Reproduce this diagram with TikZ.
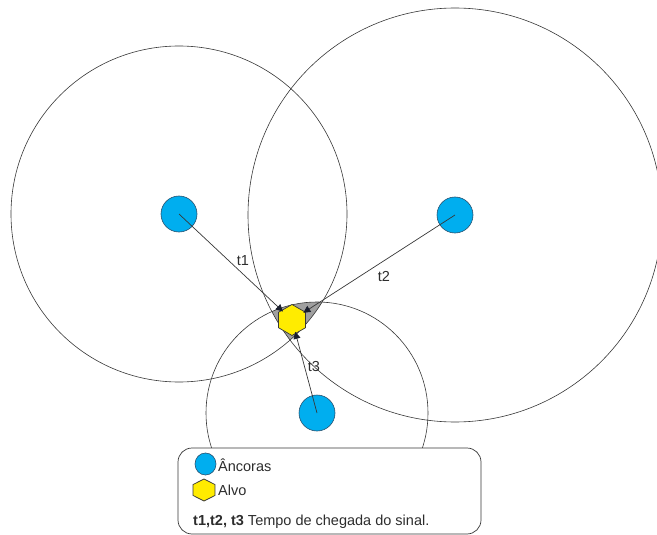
\documentclass[tikz,border=0pt]{standalone}
\usepackage{fontspec}
\setmainfont{Liberation Sans}
\usetikzlibrary{shapes.geometric,arrows.meta}
\definecolor{anchorblue}{RGB}{0,174,239}
\definecolor{anchoredge}{RGB}{40,80,110}
\definecolor{targetyellow}{RGB}{255,236,0}
\definecolor{lineg}{RGB}{55,55,55}
\definecolor{txtg}{RGB}{45,45,45}
\definecolor{zoneg}{RGB}{160,160,160}
\definecolor{tipc}{RGB}{25,30,45}
\tikzset{
  rangecircle/.style={draw=lineg, line width=0.6pt},
  anchornode/.style={circle, fill=anchorblue, draw=anchoredge, line width=0.6pt, minimum size=36pt, inner sep=0pt},
  legendanchor/.style={ellipse, fill=anchorblue, draw=anchoredge, line width=0.6pt, minimum width=21pt, minimum height=22pt, inner sep=0pt},
  targetnode/.style={regular polygon, regular polygon sides=6, shape border rotate=30, fill=targetyellow, draw=lineg, line width=0.7pt, minimum size=31pt, inner sep=0pt},
  legendtarget/.style={regular polygon, regular polygon sides=6, shape border rotate=30, fill=targetyellow, draw=lineg, line width=0.7pt, minimum size=22pt, inner sep=0pt},
  signal/.style={draw=lineg, line width=0.7pt, shorten >=-2pt, -{Triangle[length=7pt,width=7pt,fill=tipc,color=tipc]}},
  tlabel/.style={text=txtg, font=\fontsize{14.5}{17}\selectfont, inner sep=0pt},
  legtext/.style={text=txtg, font=\fontsize{14.5}{17}\selectfont, inner sep=0pt, anchor=west},
  legendbox/.style={draw=lineg, fill=white, line width=0.7pt, rounded corners=14pt}
}
\begin{document}
\begin{tikzpicture}[x=1pt,y=-1pt]
\useasboundingbox (0,0) rectangle (657,535);
% overlapping zone
\begin{scope}
  \clip (179,214) circle[radius=168];
  \clip (455,215) circle[radius=207];
  \fill[zoneg] (317,413) circle[radius=111];
\end{scope}
% range circles
\draw[rangecircle] (179,214) circle[radius=168];
\draw[rangecircle] (455,215) circle[radius=207];
\draw[rangecircle] (317,413) circle[radius=111];
% anchors
\node[anchornode] (a1) at (179,214) {};
\node[anchornode] (a2) at (455,215) {};
\node[anchornode] (a3) at (317,413) {};
% target
\node[targetnode] (tg) at (292,320) {};
% signals
\draw[signal] (a1.center) -- (tg);
\draw[signal] (a2.center) -- (tg);
\draw[signal] (a3.center) -- (tg);
% labels
\node[tlabel] (t1) at (243,261) {t1};
\node[tlabel] (t2) at (384,276) {t2};
\node[tlabel] (t3) at (314,367) {t3};
% legend
\draw[legendbox] (178,448) rectangle (481,534);
\node[legendanchor] (la) at (205.5,464) {};
\node[legtext] (lat) at (218,465) {Âncoras};
\begin{scope}[shift={(204,490)}, xscale=1.15]
  \node[legendtarget, transform shape] (lt) at (0,0) {};
\end{scope}
\node[legtext] (ltt) at (218,490) {Alvo};
\node[legtext] (ltime) at (193,522) {\textbf{t1,t2, t3} Tempo de chegada do sinal.};
\end{tikzpicture}
\end{document}
